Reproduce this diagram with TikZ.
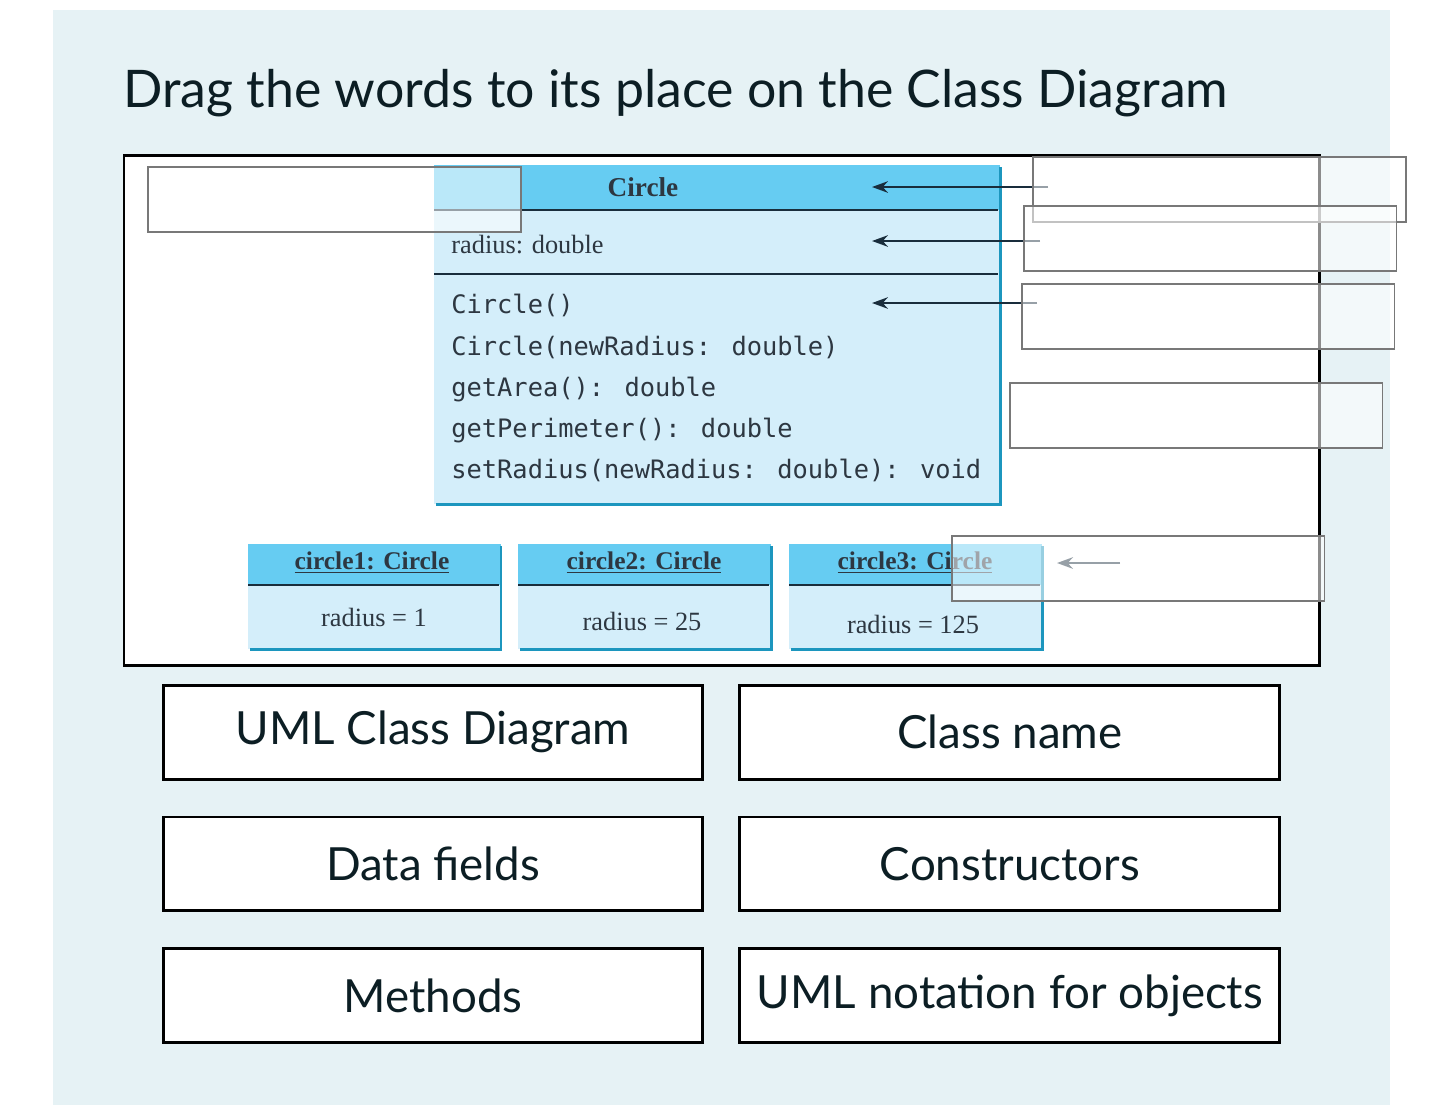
\documentclass[tikz,border=0pt]{standalone}
\usepackage{fontspec}
\setmainfont{Lato}
\newfontfamily\umlserif{Liberation Serif}
\newfontfamily\umlmono{DejaVu Sans Mono}
\usepackage{xcolor}
\usetikzlibrary{arrows.meta, positioning}

\definecolor{panel}{RGB}{230,242,245}
\definecolor{tinta}{RGB}{12,30,36}
\definecolor{cabecera}{RGB}{102,204,242}
\definecolor{cuerpo}{RGB}{212,238,250}
\definecolor{sombra}{RGB}{28,150,190}
\definecolor{lineauml}{RGB}{25,45,60}
\definecolor{textouml}{RGB}{45,55,65}
\definecolor{borde}{RGB}{120,120,120}

\begin{document}
\begin{tikzpicture}[
            x=0.02cm, y=-0.02cm,
            % Distancia entre fichas
            node distance=0.76cm and 0.74cm,
            % Estilos de las cajas, fichas y flechas
            hueco/.style={rectangle, draw=borde, line width=1.1pt, fill=white, fill opacity=0.55, minimum width=7.46cm, minimum height=1.3cm, inner sep=0pt},
            ficha/.style={rectangle, draw=black, line width=1.7pt, fill=white, minimum width=10.8cm, minimum height=1.88cm, outer sep=0pt, text=tinta, font=\fontsize{26}{30}\selectfont},
            flecha/.style={draw=lineauml, line width=1.6pt, -{Stealth[length=9pt, width=6.5pt]}},
            separa/.style={draw=lineauml, line width=1.1pt},
            borde sombra/.style={draw=sombra, line width=1.7pt},
            umltexto/.style={text=textouml, font=\umlserif\fontsize{15}{18}\selectfont, inner sep=0pt},
            umlobjeto/.style={text=textouml, font=\umlserif\bfseries\fontsize{14.5}{18}\selectfont, inner sep=0pt}
            ]

            % Fondo
            \useasboundingbox (0,0) rectangle (1440,1110);
            \fill[white] (0,0) rectangle (1440,1110);
            \fill[panel] (53,10) rectangle (1390,1105);

            % Titulo
            \node[anchor=base west, text=tinta, font=\fontsize{29.5}{34}\selectfont, inner sep=0pt] (titulo) at (123,107) {Drag the words to its place on the Class Diagram};

            % Marco de la imagen
            \draw[fill=white, line width=1.7pt] (124,155) rectangle (1319,665);

            % Clase Circle
            \fill[cabecera] (434,165) rectangle (1000,210);
            \fill[cuerpo] (434,210) rectangle (1000,504);
            \draw[separa] (434,210) -- (998,210);
            \draw[separa] (434,274) -- (998,274);
            \draw[borde sombra] (436,504) -- (1000,504) -- (1000,167);
            \node[umltexto, font=\umlserif\bfseries\fontsize{15.5}{18}\selectfont] (nombre) at (643,187) {Circle};
            \node[umltexto, anchor=west] (atributo) at (451,245) {radius: double};
            \node[umltexto, anchor=north west, align=left, font=\umlmono\fontsize{14.45}{23.5}\selectfont] (metodos) at (451,294) {Circle()\\Circle(newRadius: double)\\getArea(): double\\getPerimeter(): double\\setRadius(newRadius: double): void};

            % Objetos
            \fill[cabecera] (248,544) rectangle (501,585);
            \fill[cuerpo] (248,585) rectangle (501,649);
            \draw[separa] (248,585) -- (499,585);
            \draw[borde sombra] (250,649) -- (501,649) -- (501,546);
            \node[umlobjeto] (obj1) at (372,563) {\underline{circle1: Circle}};
            \node[umltexto] (radio1) at (374,617) {radius = 1};

            \fill[cabecera] (518,544) rectangle (771,585);
            \fill[cuerpo] (518,585) rectangle (771,649);
            \draw[separa] (518,585) -- (769,585);
            \draw[borde sombra] (520,649) -- (771,649) -- (771,546);
            \node[umlobjeto] (obj2) at (644,563) {\underline{circle2: Circle}};
            \node[umltexto] (radio2) at (642,621) {radius = 25};

            \fill[cabecera] (789,544) rectangle (1042,585);
            \fill[cuerpo] (789,585) rectangle (1042,649);
            \draw[separa] (789,585) -- (1040,585);
            \draw[borde sombra] (791,649) -- (1042,649) -- (1042,546);
            \node[umlobjeto] (obj3) at (915,563) {\underline{circle3: Circle}};
            \node[umltexto] (radio3) at (913,624) {radius = 125};

            % Flechas
            \coordinate (colaA) at (1048,187);
            \coordinate (puntaA) at (872,187);
            \coordinate (colaB) at (1040,241);
            \coordinate (puntaB) at (872,241);
            \coordinate (colaC) at (1037,303);
            \coordinate (puntaC) at (872,303);
            \coordinate (colaD) at (1120,563);
            \coordinate (puntaD) at (1057,563);
            \draw[flecha] (colaA) -- (puntaA);
            \draw[flecha] (colaB) -- (puntaB);
            \draw[flecha] (colaC) -- (puntaC);
            \draw[flecha] (colaD) -- (puntaD);

            % Huecos para soltar
            \node[hueco] (hueco1) at (334.5,199.5) {};
            \node[hueco] (hueco2) at (1219.5,189.5) {};
            \node[hueco] (hueco3) at (1210,238.5) {};
            \node[hueco] (hueco4) at (1208,316.5) {};
            \node[hueco] (hueco5) at (1196,415.5) {};
            \node[hueco] (hueco6) at (1138,568.5) {};

            % Fichas
            \node[ficha] (diagrama) at (433,732) {UML Class Diagram};
            \node[ficha, right=of diagrama] (nombreclase) {Class name};
            \node[ficha, below=of diagrama] (datos) {Data fields};
            \node[ficha, right=of datos] (constructores) {Constructors};
            \node[ficha, below=of datos] (metodosficha) {Methods};
            \node[ficha, right=of metodosficha] (notacion) {UML notation for objects};

        \end{tikzpicture}
\end{document}
